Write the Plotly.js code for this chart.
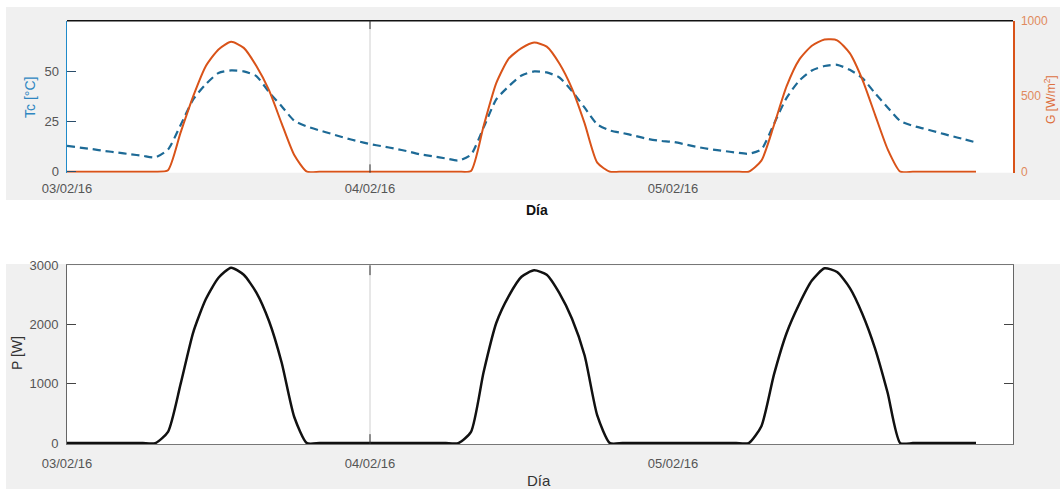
<!DOCTYPE html>
<html>
<head>
<meta charset="utf-8">
<script src="https://cdn.plot.ly/plotly-3.0.1.min.js"></script>
<style>
  html,body{margin:0;padding:0;background:#ffffff;}
  #wrap{position:relative;width:1060px;height:489px;overflow:hidden;}
  .bg{position:absolute;background:#f0f0f0;}
  #chart{position:absolute;left:0;top:0;width:1060px;height:489px;}
</style>
</head>
<body>
<div id="wrap">
  <div class="bg" style="left:6px;top:7px;width:1054px;height:193px;"></div>
  <div class="bg" style="left:6px;top:264px;width:1054px;height:225px;"></div>
  <div id="chart"></div>
</div>
<script>
// ---- data (hours since 03/02/16 00:00) ----
const hours = [0,1,2,3,4,5,6,7,8,9,10,11,12,13,14,15,16,17,18,19,20,21,22,23,
  24,25,26,27,28,29,30,31,32,33,34,35,36,37,38,39,40,41,42,43,44,45,46,47,
  48,49,50,51,52,53,54,55,56,57,58,59,60,61,62,63,64,65,66,67,68,69,70,71,72];

// cell temperature Tc [°C]
const tc = [12.8,12.0,11.2,10.3,9.5,8.7,7.9,7.1,11.0,23.2,35.9,43.5,49.0,50.3,49.8,47.5,39.5,32.5,25.3,22.5,20.5,18.7,16.8,15.2,
  13.7,12.6,11.4,10.1,8.6,7.6,6.6,5.5,8.5,22.0,35.9,42.5,47.8,49.8,49.3,46.8,40.0,31.8,23.5,20.5,19.2,17.8,16.3,15.3,
  14.8,13.5,12.2,11.1,10.3,9.5,8.9,11.1,23.8,36.7,45.2,50.3,52.5,53.1,50.6,46.5,39.0,31.9,25.2,22.8,21.2,19.5,17.8,16.2,14.5];

// irradiance G [W/m2]
const irr = [0,0,0,0,0,0,0,0,10,260,500,700,810,860,820,700,540,320,110,0,0,0,0,0,
  0,0,0,0,0,0,0,0,5,303,586,750,818,855,828,716,550,320,60,0,0,0,0,0,
  0,0,0,0,0,0,0,73,309,566,742,834,875,870,785,610,378,149,0,0,0,0,0,0,0];

// power P [W]
const power = [0,0,0,0,0,0,0,0,190,1000,1870,2430,2790,2960,2840,2540,2060,1360,440,0,0,0,0,0,
  0,0,0,0,0,0,0,0,190,1200,2026,2485,2807,2915,2840,2530,2097,1478,467,0,0,0,0,0,
  0,0,0,0,0,0,0,285,1159,1858,2347,2742,2950,2887,2620,2180,1600,850,0,0,0,0,0,0,0];

const tickHours = [0,24,48];
const tickLabels = ['03/02/16','04/02/16','05/02/16'];
const tcTicks = [0,25,50];
const gTicks = [0,500,1000];
const pTicks = [0,1000,2000,3000];

// ---- layout helpers (pixels -> paper) ----
const W = 1060, H = 489;
const fx = p => p / W;
const fy = p => 1 - p / H;
const xDom = [fx(67), fx(1013)];
const xRange = [0, 74.93];

const tickFont = {family:'Liberation Sans, Arial, sans-serif', size:13, color:'#555555'};

const traces = [
  {x: hours, y: irr, xaxis:'x', yaxis:'y2', type:'scatter', mode:'lines',
   line:{color:'#D95319', width:2, shape:'spline', smoothing:0.6}, hoverinfo:'skip'},
  {x: hours, y: tc, xaxis:'x', yaxis:'y', type:'scatter', mode:'lines',
   line:{color:'#1d6a96', width:2.2, dash:'8px,5px', shape:'spline', smoothing:0.6}, hoverinfo:'skip'},
  {x: hours, y: power, xaxis:'x2', yaxis:'y4', type:'scatter', mode:'lines',
   line:{color:'#111111', width:2.5, shape:'spline', smoothing:0.6}, hoverinfo:'skip'}
];

const vline = (xr, yr) => [
  {type:'line', xref:xr, yref:yr+' domain', x0:tickHours[1], x1:tickHours[1], y0:0, y1:1,
   line:{color:'#cfcfcf', width:1}, layer:'below'},
  {type:'line', xref:xr, yref:yr+' domain', x0:tickHours[1], x1:tickHours[1], y0:0, y1:0.055,
   line:{color:'#333333', width:1}},
  {type:'line', xref:xr, yref:yr+' domain', x0:tickHours[1], x1:tickHours[1], y0:0.945, y1:1,
   line:{color:'#333333', width:1}}
];

const layout = {
  width: W, height: H,
  margin:{l:0,r:0,t:0,b:0,pad:0},
  paper_bgcolor:'rgba(0,0,0,0)',
  plot_bgcolor:'#ffffff',
  showlegend:false,
  font: tickFont,
  xaxis:{domain:xDom, range:xRange, anchor:'y', tickvals:tickHours, ticktext:tickLabels,
    ticks:'', showline:false, showgrid:false, zeroline:false, tickfont:tickFont, ticklabelstandoff:6},
  yaxis:{domain:[fy(172.7), fy(20.7)], range:[-0.5,75], anchor:'x', tickvals:tcTicks,
    ticks:'inside', ticklen:9, tickcolor:'#2a4d6a', showline:true, linecolor:'#1f8ac9', linewidth:1.5,
    showgrid:false, zeroline:false, tickfont:tickFont, ticklabelstandoff:4},
  yaxis2:{overlaying:'y', side:'right', anchor:'x', range:[-6.7,1000], tickvals:gTicks,
    ticks:'', showline:true, linecolor:'#D95319', linewidth:1.5, showgrid:false, zeroline:false,
    tickfont:{family:tickFont.family, size:12, color:'#e08a5c'}, ticklabelstandoff:4},
  yaxis3:{overlaying:'y', side:'right', anchor:'x', range:[-0.5,75], tickvals:[25,50],
    ticks:'inside', ticklen:9, tickcolor:'#333333', showticklabels:false, showline:false,
    showgrid:false, zeroline:false},
  xaxis2:{domain:xDom, range:xRange, anchor:'y4', tickvals:tickHours, ticktext:tickLabels,
    ticks:'', showline:true, mirror:true, linecolor:'#777777', linewidth:1, showgrid:false,
    zeroline:false, tickfont:tickFont, ticklabelstandoff:7},
  yaxis4:{domain:[fy(444), fy(265.3)], range:[-15,3000], anchor:'x2', tickvals:pTicks,
    ticks:'inside', ticklen:9, tickcolor:'#444444', showline:true, mirror:'ticks', linecolor:'#666666',
    linewidth:1, showgrid:false, zeroline:false, tickfont:tickFont, ticklabelstandoff:5},
  shapes: [
    {type:'line', xref:'x domain', yref:'y domain', x0:0, x1:1, y0:1, y1:1, line:{color:'#111111', width:1.5}},
    ...vline('x','y'),
    ...vline('x2','y4')
  ],
  annotations: [
    {text:'Tc [°C]', xref:'paper', yref:'paper', x:fx(30), y:fy(98), textangle:-90, showarrow:false,
     xanchor:'center', yanchor:'middle', font:{family:tickFont.family, size:14, color:'#2e86c1'}},
    {text:'G [W/m<sup>2</sup>]', xref:'paper', yref:'paper', x:fx(1050), y:fy(100), textangle:-90, showarrow:false,
     xanchor:'center', yanchor:'middle', font:{family:tickFont.family, size:12, color:'#dd7040'}},
    {text:'<b>Día</b>', xref:'paper', yref:'paper', x:fx(537), y:fy(210), showarrow:false,
     xanchor:'center', yanchor:'middle', font:{family:tickFont.family, size:14, color:'#111111'}},
    {text:'P [W]', xref:'paper', yref:'paper', x:fx(17), y:fy(353), textangle:-90, showarrow:false,
     xanchor:'center', yanchor:'middle', font:{family:tickFont.family, size:14, color:'#333333'}},
    {text:'Día', xref:'paper', yref:'paper', x:fx(539), y:fy(480), showarrow:false,
     xanchor:'center', yanchor:'middle', font:{family:tickFont.family, size:15, color:'#333333'}}
  ]
};

Plotly.newPlot('chart', traces, layout, {staticPlot:true, displayModeBar:false});
</script>
</body>
</html>
